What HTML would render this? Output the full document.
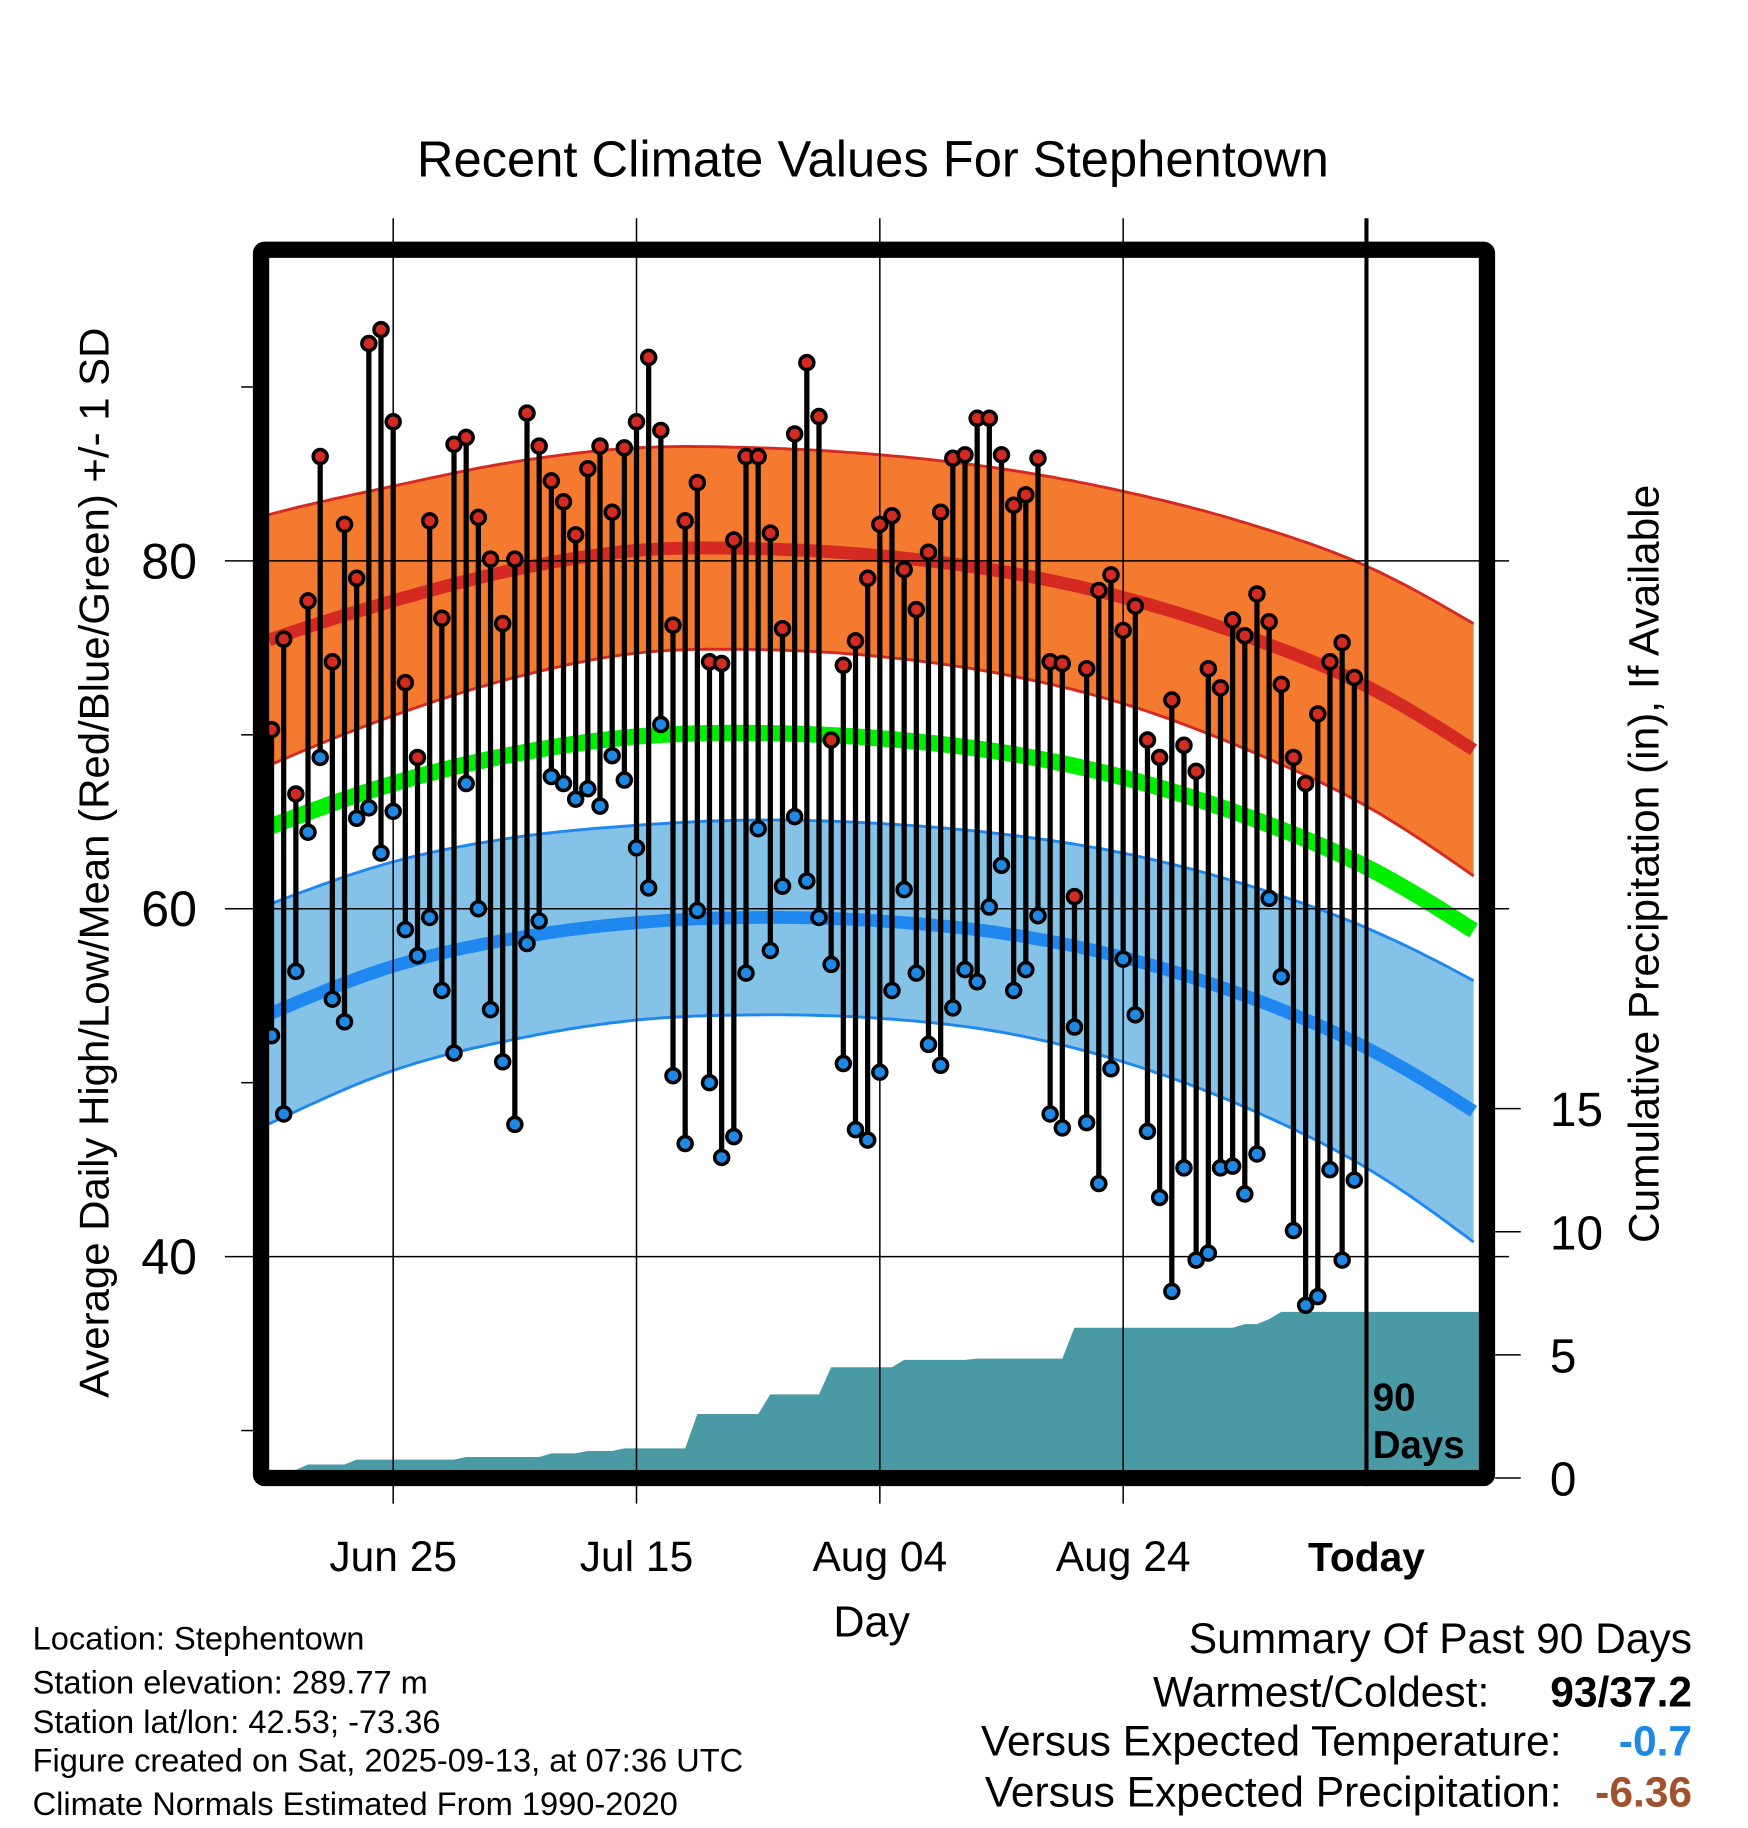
<!DOCTYPE html>
<html><head><meta charset="utf-8">
<style>
html,body{margin:0;padding:0;background:#fff;}
svg{display:block;font-family:"Liberation Sans",Arial,sans-serif;}
</style></head>
<body>
<svg id="chart" width="1748" height="1828" viewBox="0 0 1500 1568" xmlns="http://www.w3.org/2000/svg">
<rect width="1500" height="1568" fill="#fff"/>
<text x="749" y="151" font-size="43.5" text-anchor="middle">Recent Climate Values For Stephentown</text>
<g id="plot"></g>
<text transform="translate(93,740) rotate(-90)" font-size="36" text-anchor="middle">Average Daily High/Low/Mean (Red/Blue/Green) +/- 1 SD</text>
<text transform="translate(1423,741) rotate(-90)" font-size="36.4" text-anchor="middle">Cumulative Precipitation (in), If Available</text>
<text x="748" y="1404" font-size="37" text-anchor="middle">Day</text>
<g font-size="28">
<text x="28" y="1415">Location: Stephentown</text>
<text x="28" y="1453">Station elevation: 289.77 m</text>
<text x="28" y="1487">Station lat/lon: 42.53; -73.36</text>
<text x="28" y="1520">Figure created on Sat, 2025-09-13, at 07:36 UTC</text>
<text x="28" y="1557">Climate Normals Estimated From 1990-2020</text>
</g>
<g font-size="36.5">
<text x="1452" y="1418" text-anchor="end">Summary Of Past 90 Days</text>
<text x="1278" y="1464" text-anchor="end">Warmest/Coldest:</text>
<text x="1452" y="1464" text-anchor="end" font-weight="bold">93/37.2</text>
<text x="1340" y="1506" text-anchor="end">Versus Expected Temperature:</text>
<text x="1452" y="1506" text-anchor="end" font-weight="bold" fill="#1e88e5">-0.7</text>
<text x="1340" y="1550" text-anchor="end">Versus Expected Precipitation:</text>
<text x="1452" y="1550" text-anchor="end" font-weight="bold" fill="#a0522d">-6.36</text>
</g>
</svg>
<script>
const highs=[70.3,75.5,66.6,77.7,86.0,74.2,82.1,79.0,92.5,93.3,88.0,73.0,68.7,82.3,76.7,86.7,87.1,82.5,80.1,76.4,80.1,88.5,86.6,84.6,83.4,81.5,85.3,86.6,82.8,86.5,88.0,91.7,87.5,76.3,82.3,84.5,74.2,74.1,81.2,86.0,86.0,81.6,76.1,87.3,91.4,88.3,69.7,74.0,75.4,79.0,82.1,82.6,79.5,77.2,80.5,82.8,85.9,86.1,88.2,88.2,86.1,83.2,83.8,85.9,74.2,74.1,60.7,73.8,78.3,79.2,76.0,77.4,69.7,68.7,72.0,69.4,67.9,73.8,72.7,76.6,75.7,78.1,76.5,72.9,68.7,67.2,71.2,74.2,75.3,73.3];
const lows=[52.7,48.2,56.4,64.4,68.7,54.8,53.5,65.2,65.8,63.2,65.6,58.8,57.3,59.5,55.3,51.7,67.2,60.0,54.2,51.2,47.6,58.0,59.3,67.6,67.2,66.3,66.9,65.9,68.8,67.4,63.5,61.2,70.6,50.4,46.5,59.9,50.0,45.7,46.9,56.3,64.6,57.6,61.3,65.3,61.6,59.5,56.8,51.1,47.3,46.7,50.6,55.3,61.1,56.3,52.2,51.0,54.3,56.5,55.8,60.1,62.5,55.3,56.5,59.6,48.2,47.4,53.2,47.7,44.2,50.8,57.1,53.9,47.2,43.4,38.0,45.1,39.8,40.2,45.1,45.2,43.6,45.9,60.6,56.1,41.5,37.2,37.7,45.0,39.8,44.4];
const precip=[0,0,0,0.55,0,0,0,0.2,0,0,0,0,0,0,0,0,0.1,0,0,0,0,0,0,0.15,0,0,0.1,0,0,0.1,0,0,0,0,0,1.4,0,0,0,0,0,0.8,0,0,0,0,1.1,0,0,0,0,0,0.3,0,0,0,0,0,0.05,0,0,0,0,0,0,0,1.25,0,0,0,0,0,0,0,0,0,0,0,0,0,0.15,0,0.2,0.3,0,0,0,0,0,0];
const normDays=[-10,0,10,20,30,40,50,60,70,80,90,100,110];
const normHigh=[72.8,75.5,77.7,79.5,80.6,80.7,80.3,79.4,77.9,75.7,72.8,68.6,63.8];
const sdHigh=[7.8,7.2,6.6,6.2,5.9,5.8,5.8,5.9,6.1,6.5,6.9,7.3,7.7];
const normLow=[50.8,54.0,56.7,58.3,59.2,59.5,59.3,58.6,57.2,55.0,52.0,47.8,42.8];
const sdLow=[6.6,6.3,6.0,5.8,5.6,5.6,5.6,5.7,6.0,6.4,6.9,7.6,8.3];
const xTickDays=[10,30,50,70,90];
const xTickLabels=["Jun 25","Jul 15","Aug 04","Aug 24","Today"];
const yTicks=[40,60,80];
const yMinor=[30,50,70,90];
const pTicks=[0,5,10,15];

const NS="http://www.w3.org/2000/svg";
const g=document.getElementById('plot');
const X=d=>233+10.44*d;
const Y=t=>481+(80-t)*14.925;
const P=p=>1268-p*21.13;
const L=231,R=1269,T=221,B=1261;
function mk(tag,attrs,parent){const e=document.createElementNS(NS,tag);for(const k in attrs)e.setAttribute(k,attrs[k]);(parent||g).appendChild(e);return e;}
function interp(arr,d){let i=0;while(i<normDays.length-2&&d>normDays[i+1])i++;
 const p0=arr[Math.max(i-1,0)],p1=arr[i],p2=arr[i+1],p3=arr[Math.min(i+2,arr.length-1)];
 const t=(d-normDays[i])/(normDays[i+1]-normDays[i]);
 return 0.5*((2*p1)+(-p0+p2)*t+(2*p0-5*p1+4*p2-p3)*t*t+(-p0+3*p1-3*p2+p3)*t*t*t);}
const samples=[];for(let d=-0.2;d<=99.21;d+=0.5)samples.push(d);
function linePts(f){return samples.map(d=>X(d).toFixed(1)+','+Y(f(d)).toFixed(1));}
function band(fu,fl,fill,stroke,name){
 const up=linePts(fu),lo=linePts(fl).reverse();
 const b=mk('polygon',{points:up.concat(lo).join(' '),fill:fill});
 
 
 const u=mk('polyline',{points:up.join(' '),fill:'none',stroke:stroke,'stroke-width':2.5});
 
 
 const l=mk('polyline',{points:linePts(fl).join(' '),fill:'none',stroke:stroke,'stroke-width':2.5});
 
 
}
const hi=d=>interp(normHigh,d),hs=d=>interp(sdHigh,d),lw=d=>interp(normLow,d),ls=d=>interp(sdLow,d);
band(d=>hi(d)+hs(d),d=>hi(d)-hs(d),'#f47a30','#d42a22','high-sd-band');
band(d=>lw(d)+ls(d),d=>lw(d)-ls(d),'#84c2e8','#1e88f0','low-sd-band');
let e=mk('polyline',{points:linePts(hi).join(' '),fill:'none',stroke:'#d42a22','stroke-width':11});


e=mk('polyline',{points:linePts(lw).join(' '),fill:'none',stroke:'#1e88f0','stroke-width':11});


e=mk('polyline',{points:linePts(d=>(hi(d)+lw(d))/2).join(' '),fill:'none',stroke:'#00ee00','stroke-width':14});


let cum=0;const pp=[[L,P(0)]];
precip.forEach((v,i)=>{const prev=cum;cum+=v;if(v>0){pp.push([X(i-1),P(prev)]);}pp.push([X(i),P(cum)]);});
pp.push([R,P(cum)]);pp.push([R,B]);pp.push([L,B]);
e=mk('polygon',{points:pp.map(p=>p[0].toFixed(1)+','+Math.min(p[1],B).toFixed(1)).join(' '),fill:'#4a9aa5'});


yTicks.forEach(t=>{const l=mk('line',{x1:193,x2:1295,y1:Y(t),y2:Y(t),stroke:'#000','stroke-width':1.3});
 
 
 const tx=mk('text',{x:169,y:Y(t)+15,'font-size':43,'text-anchor':'end'});tx.textContent=t;
 
 });
yMinor.forEach(t=>{const l=mk('line',{x1:207,x2:217,y1:Y(t),y2:Y(t),stroke:'#000','stroke-width':1.3});
 
 });
pTicks.forEach(p=>{const l=mk('line',{x1:1283,x2:1305,y1:P(p),y2:P(p),stroke:'#000','stroke-width':1.3});
 
 
 const tx=mk('text',{x:1330,y:P(p)+15,'font-size':41});tx.textContent=p;
 
 });
xTickDays.forEach((d,i)=>{const today=i===xTickLabels.length-1;
 const l=mk('line',{x1:X(d),x2:X(d),y1:187,y2:today?1275:1290,stroke:'#000','stroke-width':today?3.5:1.3});
 
 
 const tx=mk('text',{x:X(d),y:1348,'font-size':today?35:36.5,'text-anchor':'middle','font-weight':today?'bold':'normal'});tx.textContent=xTickLabels[i];
 
 });
highs.forEach((h,i)=>{const s=mk('line',{x1:X(i),x2:X(i),y1:Y(h),y2:Y(lows[i]),stroke:'#000','stroke-width':4.5});
 
 });
highs.forEach((h,i)=>{
 const a=mk('circle',{cx:X(i),cy:Y(h),r:6,fill:'#d42a22',stroke:'#000','stroke-width':3});
 
 
 const b=mk('circle',{cx:X(i),cy:Y(lows[i]),r:6,fill:'#1e88e5',stroke:'#000','stroke-width':3});
 
 });
e=mk('text',{x:1178,y:1210,'font-size':33,'font-weight':'bold'});e.textContent='90';


e=mk('text',{x:1178,y:1251,'font-size':33,'font-weight':'bold'});e.textContent='Days';


e=mk('rect',{x:224,y:214,width:1052,height:1054,fill:'none',stroke:'#000','stroke-width':14,rx:3});


</script>
</body></html>
